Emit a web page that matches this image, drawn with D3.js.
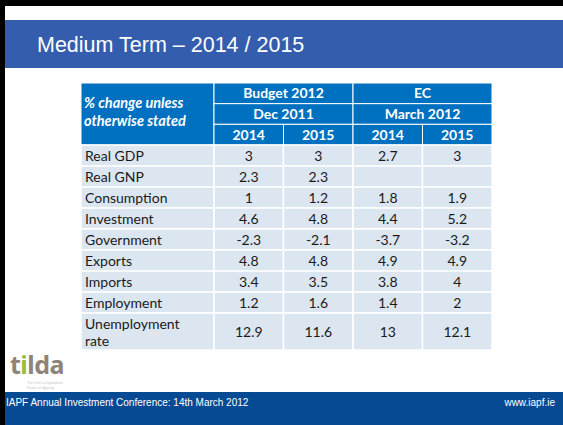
<!DOCTYPE html>
<html lang="en">
<head>
    <meta charset="utf-8">
    <title>Medium Term – 2014 / 2015</title>
    <style type="text/css">
        body { margin: 0; background: #fff; }
        svg { display: block; }
        .cell text { font-family: Lato, "Noto Sans", sans-serif; }
    </style>
</head>
<body>
   <svg class="slide" width="563" height="425"></svg>

   <script src="https://d3js.org/d3.v7.min.js"></script>
   <script>
        // 表格数据
        var rowLabels = ["Real GDP", "Real GNP", "Consumption", "Investment", "Government",
                         "Exports", "Imports", "Employment", "Unemployment rate"];
        var budget2014 = [3, 2.3, 1, 4.6, -2.3, 4.8, 3.4, 1.2, 12.9];
        var budget2015 = [3, 2.3, 1.2, 4.8, -2.1, 4.8, 3.5, 1.6, 11.6];
        var ec2014 = [2.7, null, 1.8, 4.4, -3.7, 4.9, 3.8, 1.4, 13];
        var ec2015 = [3, null, 1.9, 5.2, -3.2, 4.9, 4, 2, 12.1];
        var columnKeys = ["b14", "b15", "e14", "e15"];
        var yearLabels = ["2014", "2015", "2014", "2015"];
        var groupLabels = [["Budget 2012", "Dec 2011"], ["EC", "March 2012"]];
        var rowLines = [1, 1, 1, 1, 1, 1, 1, 1, 2];

        var svg = d3.select('.slide'),
            width = +svg.attr('width'),
            height = +svg.attr('height');

        // 背景与边框
        svg.append('rect').attr('width', width).attr('height', height).attr('fill', '#fff');
        svg.append('rect').attr('x', 0).attr('y', 0).attr('width', width).attr('height', 6).attr('fill', '#000');
        svg.append('rect').attr('x', 0).attr('y', 0).attr('width', 5).attr('height', height).attr('fill', '#000');

        // 标题栏
        svg.append('rect').attr('x', 5).attr('y', 20).attr('width', width - 5).attr('height', 48).attr('fill', '#345dae');
        svg.append('text').attr('x', 37).attr('y', 52)
            .attr('fill', '#fff')
            .attr('font-family', '"Liberation Sans", Arial, sans-serif')
            .attr('font-size', 21.5)
            .text('Medium Term – 2014 / 2015');

        // 页脚
        svg.append('rect').attr('x', 5).attr('y', 392).attr('width', width - 5).attr('height', height - 392).attr('fill', '#054a93');
        svg.append('text').attr('x', 6).attr('y', 406)
            .attr('fill', '#fff')
            .attr('font-family', '"Liberation Sans", Arial, sans-serif')
            .attr('font-size', 10)
            .text('IAPF Annual Investment Conference: 14th March 2012');
        svg.append('text').attr('x', 555).attr('y', 406)
            .attr('fill', '#fff')
            .attr('text-anchor', 'end')
            .attr('font-family', '"Liberation Sans", Arial, sans-serif')
            .attr('font-size', 10)
            .text('www.iapf.ie');

        // tilda 标志
        var logo = svg.append('g').attr('transform', 'translate(10,374)');
        logo.append('text').attr('x', 0).attr('y', 0)
            .attr('fill', '#8e8478')
            .attr('font-family', '"Noto Sans", sans-serif')
            .attr('font-weight', 'bold')
            .attr('font-size', 25)
            .attr('letter-spacing', -0.5)
            .html('t<tspan fill="#9bbd3c">i</tspan>lda');
        logo.append('text').attr('x', 17).attr('y', 10)
            .attr('fill', '#c4c4c4').attr('font-size', 3.5)
            .attr('font-family', '"Noto Sans", sans-serif')
            .text('The Irish Longitudinal');
        logo.append('text').attr('x', 17).attr('y', 14.5)
            .attr('fill', '#c4c4c4').attr('font-size', 3.5)
            .attr('font-family', '"Noto Sans", sans-serif')
            .text('Study on Ageing');

        // 表格比例尺
        var tableLeft = 81, labelRight = 214, tableRight = 492;
        var headTop = 83, dataTop = 145, tableBottom = 350;

        var xscale = d3.scaleBand()
                    .domain(columnKeys)
                    .range([labelRight, tableRight]);

        var units = [0].concat(Array.from(d3.cumsum(rowLines.map(function(n){ return n === 1 ? 1 : 1.76; }))));
        var yscale = d3.scaleLinear()
                    .domain([0, units[units.length - 1]])
                    .range([dataTop, tableBottom]);

        var headRows = d3.scaleBand()
                    .domain([0, 1, 2])
                    .range([headTop, dataTop]);

        var g = svg.append('g').attr('class', 'cell');
        var headBlue = '#0070c0', bodyBlue = '#dce6f1';
        var fs = 14, hfs = 14;

        // 表头左侧单元格
        g.append('rect')
            .attr('x', tableLeft).attr('y', headTop)
            .attr('width', labelRight - tableLeft).attr('height', dataTop - headTop)
            .attr('fill', headBlue).attr('stroke', '#fff').attr('stroke-width', 1);
        g.append('text').attr('x', tableLeft + 3).attr('y', 108)
            .attr('fill', '#fff').attr('font-weight', 'bold').attr('font-style', 'italic').attr('font-size', 14.5)
            .text('% change unless');
        g.append('text').attr('x', tableLeft + 3).attr('y', 126)
            .attr('fill', '#fff').attr('font-weight', 'bold').attr('font-style', 'italic').attr('font-size', 14.5)
            .text('otherwise stated');

        // 分组表头
        groupLabels.forEach(function(labels, gi){
            var x0 = xscale(columnKeys[gi * 2]),
                x1 = xscale(columnKeys[gi * 2 + 1]) + xscale.bandwidth();
            labels.forEach(function(lab, ri){
                g.append('rect')
                    .attr('x', x0).attr('y', headRows(ri))
                    .attr('width', x1 - x0).attr('height', headRows.bandwidth())
                    .attr('fill', headBlue).attr('stroke', '#fff').attr('stroke-width', 1);
                g.append('text')
                    .attr('x', (x0 + x1) / 2).attr('y', headRows(ri) + headRows.bandwidth() / 2 + 5)
                    .attr('text-anchor', 'middle')
                    .attr('fill', '#fff').attr('font-weight', 'bold').attr('font-size', hfs)
                    .text(lab);
            });
        });

        // 年份表头
        g.selectAll('.year')
            .data(columnKeys)
            .enter()
            .append('rect')
            .attr('x', function(d){ return xscale(d); })
            .attr('y', headRows(2))
            .attr('width', xscale.bandwidth())
            .attr('height', headRows.bandwidth())
            .attr('fill', headBlue).attr('stroke', '#fff').attr('stroke-width', 1);
        g.selectAll('.yearText')
            .data(columnKeys)
            .enter()
            .append('text')
            .attr('x', function(d){ return xscale(d) + xscale.bandwidth() / 2; })
            .attr('y', headRows(2) + headRows.bandwidth() / 2 + 5)
            .attr('text-anchor', 'middle')
            .attr('fill', '#fff').attr('font-weight', 'bold').attr('font-size', hfs)
            .text(function(d, i){ return yearLabels[i]; });

        // 数据行
        var series = [budget2014, budget2015, ec2014, ec2015];
        rowLabels.forEach(function(label, i){
            var y0 = yscale(units[i]), y1 = yscale(units[i + 1]), mid = (y0 + y1) / 2;
            g.append('rect')
                .attr('x', tableLeft).attr('y', y0)
                .attr('width', labelRight - tableLeft).attr('height', y1 - y0)
                .attr('fill', bodyBlue).attr('stroke', '#fff').attr('stroke-width', 1.5);
            if (rowLines[i] === 1) {
                g.append('text').attr('x', tableLeft + 4).attr('y', mid + 5)
                    .attr('fill', '#1a1a1a').attr('font-size', fs).text(label);
            } else {
                var parts = label.split(' ');
                g.append('text').attr('x', tableLeft + 4).attr('y', mid - 3)
                    .attr('fill', '#1a1a1a').attr('font-size', fs).text(parts[0]);
                g.append('text').attr('x', tableLeft + 4).attr('y', mid + 14)
                    .attr('fill', '#1a1a1a').attr('font-size', fs).text(parts[1]);
            }
            series.forEach(function(vals, ci){
                var key = columnKeys[ci];
                g.append('rect')
                    .attr('x', xscale(key)).attr('y', y0)
                    .attr('width', xscale.bandwidth()).attr('height', y1 - y0)
                    .attr('fill', bodyBlue).attr('stroke', '#fff').attr('stroke-width', 1.5);
                if (vals[i] !== null) {
                    g.append('text')
                        .attr('x', xscale(key) + xscale.bandwidth() / 2).attr('y', mid + 5)
                        .attr('text-anchor', 'middle')
                        .attr('fill', '#1a1a1a').attr('font-size', fs)
                        .text(vals[i]);
                }
            });
        });
   </script>
</body>
</html>
